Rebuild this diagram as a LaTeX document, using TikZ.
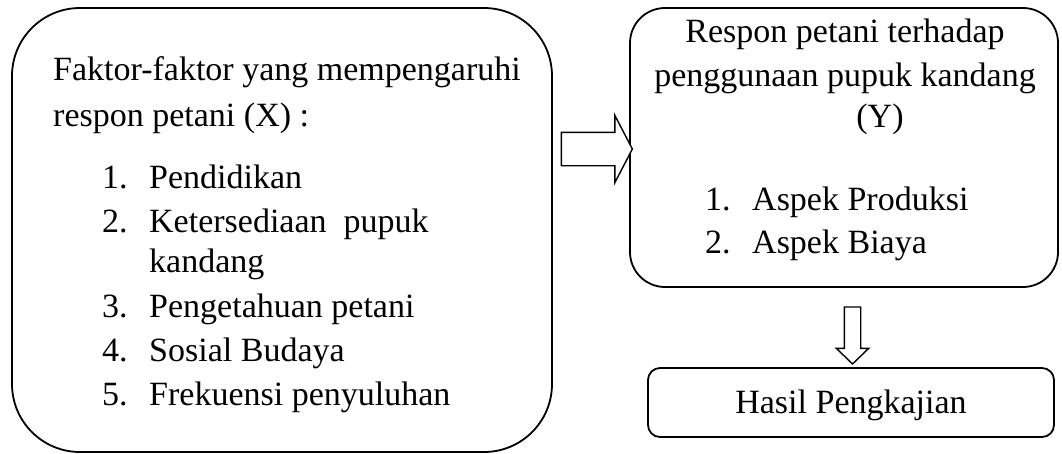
\documentclass[tikz,border=0pt]{standalone}
\usepackage{fontspec}
\setmainfont{Liberation Serif}
\usepackage{tikz}
\usetikzlibrary{shapes,arrows,calc}
\tikzstyle{kotak} = [rectangle, draw=black, line width=1.8pt, inner sep=0pt]
\tikzstyle{teks} = [anchor=base west, inner sep=0pt, font=\fontsize{34}{40}\selectfont]
\tikzstyle{teksc} = [anchor=base, inner sep=0pt, font=\fontsize{34}{40}\selectfont]
\tikzstyle{panah} = [single arrow, draw=black, line width=1.4pt, inner xsep=0pt, fill=white]

\begin{document}
\begin{tikzpicture}[x=1pt,y=-1pt]
                \useasboundingbox (0,0) rectangle (1062,453);
                % kotak
                \node (faktor) [kotak, rounded corners=68pt, minimum width=540pt, minimum height=444pt] at (282,230) {};
                \node (respon) [kotak, rounded corners=35pt, minimum width=428pt, minimum height=279pt] at (844,147.5) {};
                \node (hasil) [kotak, rounded corners=12pt, minimum width=406pt, minimum height=69pt] at (851,402.5) {};
                % panah
                \node (panahx) [panah, inner ysep=16pt, minimum height=71pt, minimum width=66pt, single arrow head extend=17pt, single arrow tip angle=125] at (592.5,149) {};
                \node (panahy) [panah, inner sep=7.5pt, shape border rotate=270, minimum height=57pt, minimum width=31pt, single arrow head extend=8pt, single arrow tip angle=92] at (852.5,331.5) {};
                % teks X
                \node (fx1) [teks] at (53,80) {Faktor-faktor yang mempengaruhi};
                \node (fx2) [teks] at (53,126) {respon petani (X) :};
                \node (n1) [teks] at (102,188) {1.};
                \node (x1) [teks] at (149,188) {Pendidikan};
                \node (n2) [teks] at (102,232) {2.};
                \node (x2) [teks] at (149,232) {Ketersediaan\ \ pupuk};
                \node (x2b) [teks] at (149,272) {kandang};
                \node (n3) [teks] at (102,317) {3.};
                \node (x3) [teks] at (149,317) {Pengetahuan petani};
                \node (n4) [teks] at (102,361) {4.};
                \node (x4) [teks] at (149,361) {Sosial Budaya};
                \node (n5) [teks] at (102,405) {5.};
                \node (x5) [teks] at (149,405) {Frekuensi penyuluhan};
                % teks Y
                \node (ry1) [teksc] at (845,42) {Respon petani terhadap};
                \node (ry2) [teksc] at (845,86) {penggunaan pupuk kandang};
                \node (ry3) [teksc] at (880,127) {(Y)};
                \node (m1) [teks] at (705,210) {1.};
                \node (y1) [teks] at (752,210) {Aspek Produksi};
                \node (m2) [teks] at (705,253) {2.};
                \node (y2) [teks] at (752,253) {Aspek Biaya};
                % teks hasil
                \node (hs) [teksc] at (851,413) {Hasil Pengkajian};
            \end{tikzpicture}
\end{document}
